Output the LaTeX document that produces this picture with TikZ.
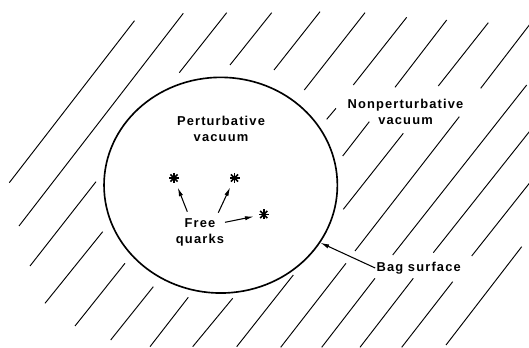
\documentclass[tikz,border=0pt]{standalone}
\usepackage{fontspec}
\setmainfont{Liberation Sans}
\newfontfamily\labelfont[LetterSpace=9]{Liberation Sans}
\usetikzlibrary{arrows.meta,shapes.geometric}

\begin{document}
\begin{tikzpicture}[x=0.03cm, y=-0.03cm,
            lbl/.style={font=\labelfont\bfseries\fontsize{11}{13.6}\selectfont, align=center, inner sep=1pt},
            hatch/.style={line width=0.8pt},
            bagline/.style={draw, ellipse, line width=1.4pt, minimum width=7cm, minimum height=6.47cm, inner sep=0pt},
            quark/.style={circle, minimum size=0.6cm, inner sep=0pt,
                path picture={\foreach \a in {0,45,90,135} \draw[line width=1.4pt] (path picture bounding box.center) ++(\a:0.15cm) -- ++(\a+180:0.3cm);}},
            arr/.style={-{Latex[length=7.5pt,width=3.6pt]}, line width=0.9pt}
        ]
            \fill[white] (0,0) rectangle (529,348);
            \useasboundingbox (0,0) rectangle (529,348);
            % hatching of the nonperturbative vacuum
            \foreach \xa/\ya/\xb/\yb in {
                9.3/182.7/134.5/20.7, 19/226/183.3/13.3, 179.3/72.7/226.7/12.7, 230/65/271.7/12.7,
                274/70/320/11.7, 304.3/90/365/12.7, 353.3/85/406.7/17.3, 395/87.3/446.7/20,
                438.3/86/488.3/22.7, 480.7/88.3/529.3/25, 326.7/119.3/336/108.3, 342.7/156/369.3/121.7,
                343.3/209.3/403.3/133.3, 355/251/459.3/116.7, 392.7/255/526.7/85, 433.3/252.7/529.3/131.7,
                471.7/256/529.3/183.3, 236.7/346.7/293.3/275, 280.7/347.3/346/263.3, 321.7/347.3/375/278.3,
                360/347.3/413.3/278.3, 401.7/347.3/452.7/281.7, 446/345/521.7/246.7,
                30/266/96/181.7, 45/303.3/102.7/231.7, 75/326/125/263.3, 110.7/340/153.3/286.7,
                150/346.7/188.3/297.3, 192.7/346.7/232.7/298.3}
                \draw[hatch] (\xa,\ya) -- (\xb,\yb);
            % the bag
            \node[bagline] (bag) at (220.7,185.2) {};
            \node[lbl] (pert)    at (221,128.7)   {Perturbative\\vacuum};
            \node[lbl] (nonpert) at (405.5,111.5) {Nonperturbative\\vacuum};
            \node[lbl] (free)    at (200,232.5)   {Free\\quarks};
            \node[lbl] (surf)    at (418.7,268)   {Bag surface};
            \node[quark] (q1) at (174,178) {};
            \node[quark] (q2) at (234.5,178) {};
            \node[quark] (q3) at (263.8,214.5) {};
            \coordinate (f1) at (187.3,211.7);
            \coordinate (f2) at (218.3,212.7);
            \coordinate (f3) at (225,222.3);
            \draw[arr] (f1) -- (q1);
            \draw[arr] (f2) -- (q2);
            \draw[arr] (f3) -- (q3);
            \draw[arr] (surf.west) -- (bag.-30);
        \end{tikzpicture}
\end{document}
